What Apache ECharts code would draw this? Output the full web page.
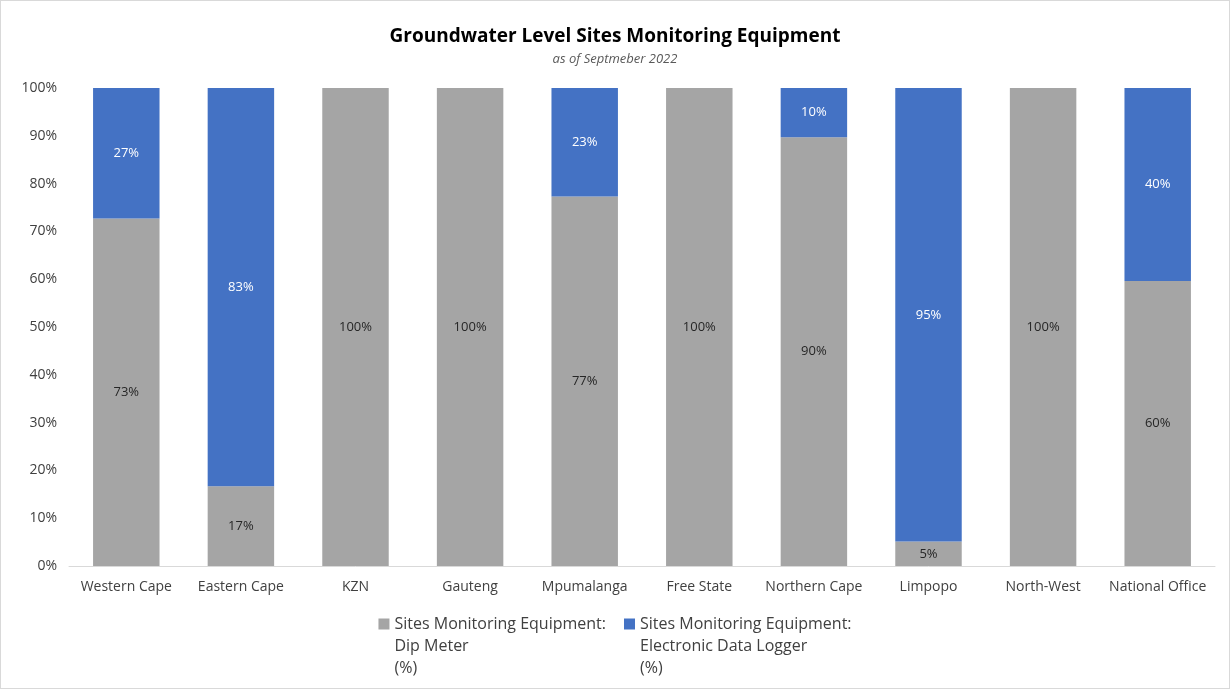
<!DOCTYPE html>
<html><head><meta charset="utf-8">
<script src="https://cdn.jsdelivr.net/npm/echarts@6/dist/echarts.min.js"></script>
<style>html,body{margin:0;padding:0;background:#fff;}#c{width:1228px;height:687px;border:1px solid #d9d9d9;}</style>
</head><body><div id="c"></div>
<script>
const categories = ['Western Cape','Eastern Cape','KZN','Gauteng','Mpumalanga','Free State','Northern Cape','Limpopo','North-West','National Office'];
const dipMeter = [72.7, 16.7, 100, 100, 77.3, 100, 89.7, 5.1, 100, 59.6];
const dataLogger = [27.3, 83.3, 0, 0, 22.7, 0, 10.3, 94.9, 0, 40.4];
const yTicks = [0,10,20,30,40,50,60,70,80,90,100];
const seriesNames = ['Sites Monitoring Equipment:\nDip Meter\n(%)','Sites Monitoring Equipment:\nElectronic Data Logger\n(%)'];
const font = '"Open Sans", "Liberation Sans", sans-serif';
const chart = echarts.init(document.getElementById('c'));
const lbl = v => v.value > 0 ? Math.round(v.value) + '%' : '';
chart.setOption({
  animation:false,
  textStyle:{fontFamily:font},
  title:{text:'Groundwater Level Sites Monitoring Equipment', subtext:'as of Septmeber 2022', left:'center', top:21, itemGap:7,
    textStyle:{fontFamily:font,fontSize:19,fontWeight:'bold',color:'#000'},
    subtextStyle:{fontFamily:font,fontSize:13,fontStyle:'italic',color:'#595959'}},
  legend:{bottom:4, left:'center', itemWidth:11, itemHeight:11, itemGap:18, icon:'rect',
    formatter: n => '\n\n' + n,
    textStyle:{fontFamily:font,fontSize:16,color:'#404040',lineHeight:22},
    data:seriesNames},
  grid:{left:68, right:14, top:87, bottom:122},
  xAxis:{type:'category', data:categories, axisTick:{show:false},
    axisLine:{lineStyle:{color:'#d9d9d9'}},
    axisLabel:{interval:0, fontFamily:font,fontSize:14,color:'#404040',margin:14}},
  yAxis:{type:'value', min:0, max:100, interval:10, splitLine:{show:false},
    axisLine:{show:false}, axisTick:{show:false},
    axisLabel:{fontFamily:font,fontSize:14,color:'#404040',margin:12,
      formatter:v => yTicks.includes(v) ? v + '%' : ''}},
  series:[
    {name:seriesNames[0], type:'bar', stack:'a', data:dipMeter, barWidth:'58%',
      itemStyle:{color:'#a5a5a5'},
      label:{show:true, position:'inside', formatter:lbl, color:'#262626', fontSize:13, fontFamily:font}},
    {name:seriesNames[1], type:'bar', stack:'a', data:dataLogger, barWidth:'58%',
      itemStyle:{color:'#4472c4'},
      label:{show:true, position:'inside', formatter:lbl, color:'#ffffff', fontSize:13, fontFamily:font}}
  ]
});
</script></body></html>
